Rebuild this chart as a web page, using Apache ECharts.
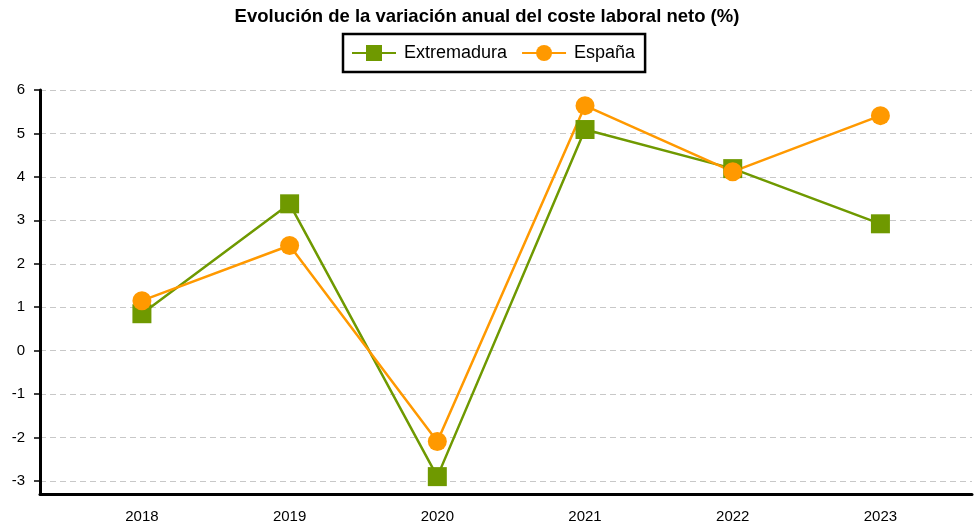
<!DOCTYPE html>
<html>
<head>
<meta charset="utf-8">
<script src="https://cdn.jsdelivr.net/npm/echarts@6/dist/echarts.min.js"></script>
<style>
  html, body { margin: 0; padding: 0; background: #fff; }
  #main { width: 974px; height: 527px; }
</style>
</head>
<body>
<div id="main"></div>
<script>
// datos
var years = [2018, 2019, 2020, 2021, 2022, 2023];
var extremadura = [0.85, 3.38, -2.9, 5.09, 4.19, 2.92];
var espana = [1.15, 2.42, -2.09, 5.64, 4.12, 5.41];
var yTicks = [-3, -2, -1, 0, 1, 2, 3, 4, 5, 6];

function pares(vals) {
  return years.map(function (y, i) { return [y, vals[i]]; });
}

var myChart = echarts.init(document.getElementById("main"));
myChart.setOption({
  animation: false,
  textStyle: { fontFamily: "Liberation Sans, Arial, sans-serif" },
  title: {
    text: "Evolución de la variación anual del coste laboral neto (%)",
    left: "center",
    top: 2,
    textStyle: { fontSize: 18.5, fontWeight: "bold", color: "#000" }
  },
  legend: {
    top: 34,
    left: 343,
    borderColor: "#000",
    borderWidth: 2.5,
    padding: [10, 10, 10, 8],
    itemGap: 14,
    itemWidth: 44,
    itemHeight: 20,
    textStyle: { fontSize: 18, color: "#000", padding: [0, 0, 0, 3] },
    data: ["Extremadura", "España"]
  },
  grid: { left: 40, right: 2, top: 90, bottom: 33 },
  xAxis: {
    type: "value",
    min: 2017.31,
    max: 2023.62,
    splitNumber: 6,
    axisLine: { onZero: false, lineStyle: { color: "#000", width: 3 } },
    axisTick: { show: false },
    splitLine: { show: false },
    axisLabel: {
      color: "#000",
      fontSize: 15,
      margin: 15,
      showMinLabel: false,
      showMaxLabel: false,
      formatter: function (v) {
        return years.indexOf(Math.round(v * 100) / 100) >= 0 ? String(v) : "";
      }
    }
  },
  yAxis: {
    type: "value",
    min: -3.3,
    max: 6,
    splitNumber: 9,
    axisLine: { show: true, lineStyle: { color: "#000", width: 3 } },
    axisTick: { show: true, length: 6, lineStyle: { color: "#000", width: 1.5 } },
    axisLabel: {
      color: "#000",
      fontSize: 15,
      margin: 15,
      showMinLabel: false,
      formatter: function (v) {
        return yTicks.indexOf(Math.round(v * 100) / 100) >= 0 ? String(v) : "";
      }
    },
    splitLine: { lineStyle: { color: "#c8c8c8", type: [6, 4], width: 1.2 } }
  },
  series: [
    {
      name: "Extremadura",
      type: "line",
      data: pares(extremadura),
      symbol: "rect",
      symbolSize: 19,
      itemStyle: { color: "#6f9900" },
      lineStyle: { color: "#6f9900", width: 2.5 }
    },
    {
      name: "España",
      type: "line",
      data: pares(espana),
      symbol: "circle",
      symbolSize: 19,
      itemStyle: { color: "#ff9900" },
      lineStyle: { color: "#ff9900", width: 2.5 }
    }
  ]
});
</script>
</body>
</html>
